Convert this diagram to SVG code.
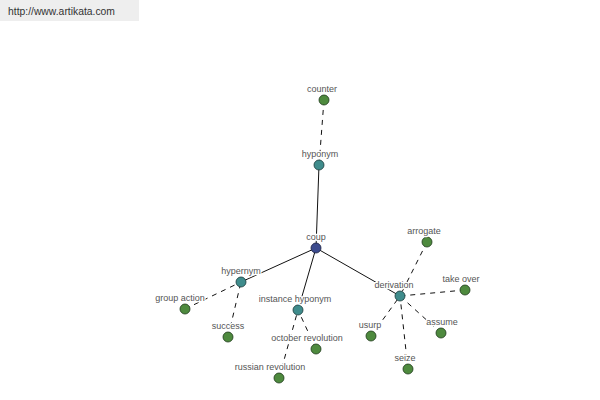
<svg xmlns="http://www.w3.org/2000/svg" width="600" height="400" viewBox="0 0 600 400">
<style>
.lbl{font-family:"Liberation Sans",Arial,sans-serif;font-size:9px;fill:#555;text-anchor:middle;stroke:#fff;stroke-width:2.5px;paint-order:stroke;stroke-linejoin:round}
.hdr{font-family:"Liberation Sans",Arial,sans-serif;font-size:10.5px;fill:#333}
.solid{stroke:#111;stroke-width:1;fill:none}
.dash{stroke:#111;stroke-width:1;fill:none;stroke-dasharray:5,5}
.leaf{fill:#4e8a3e;stroke:#1e3a1a;stroke-width:0.8}
.mid{fill:#3f8c8c;stroke:#1a3a3a;stroke-width:0.8}
.root{fill:#3c4b8e;stroke:#1a2040;stroke-width:0.8}
</style>
<rect width="600" height="400" fill="#fff"/>
<g id="header"><rect x="0" y="0" width="139" height="21" fill="#eeeeee"/><text class="hdr" x="8" y="15" textLength="107" lengthAdjust="spacingAndGlyphs">http://www.artikata.com</text></g>
<g id="connectors">
<line class="solid" x1="316" y1="248" x2="319" y2="165"/>
<line class="solid" x1="316" y1="248" x2="241" y2="282"/>
<line class="solid" x1="316" y1="248" x2="298" y2="310"/>
<line class="solid" x1="316" y1="248" x2="400" y2="296"/>
<line class="dash" x1="324" y1="100" x2="319" y2="165"/>
<line class="dash" x1="185" y1="309" x2="241" y2="282"/>
<line class="dash" x1="228" y1="337" x2="241" y2="282"/>
<line class="dash" x1="316" y1="349" x2="298" y2="310"/>
<line class="dash" x1="279" y1="378" x2="298" y2="310"/>
<line class="dash" x1="427" y1="242" x2="400" y2="296"/>
<line class="dash" x1="465" y1="290" x2="400" y2="296"/>
<line class="dash" x1="441" y1="333" x2="400" y2="296"/>
<line class="dash" x1="408" y1="369" x2="400" y2="296"/>
<line class="dash" x1="371" y1="336" x2="400" y2="296"/>
</g>
<g id="coup"><circle class="root" cx="316" cy="248" r="5"/><text class="lbl" x="316" y="240">coup</text></g>
<g id="hyponym"><circle class="mid" cx="319" cy="165" r="5"/><text class="lbl" x="320" y="157">hyponym</text></g>
<g id="counter"><circle class="leaf" cx="324" cy="100" r="5"/><text class="lbl" x="322" y="92">counter</text></g>
<g id="hypernym"><circle class="mid" cx="241" cy="282" r="5"/><text class="lbl" x="241" y="274">hypernym</text></g>
<g id="group-action"><circle class="leaf" cx="185" cy="309" r="5"/><text class="lbl" x="180" y="301">group action</text></g>
<g id="success"><circle class="leaf" cx="228" cy="337" r="5"/><text class="lbl" x="228" y="329">success</text></g>
<g id="instance-hyponym"><circle class="mid" cx="298" cy="310" r="5"/><text class="lbl" x="295" y="302">instance hyponym</text></g>
<g id="october-revolution"><circle class="leaf" cx="316" cy="349" r="5"/><text class="lbl" x="307" y="341">october revolution</text></g>
<g id="russian-revolution"><circle class="leaf" cx="279" cy="378" r="5"/><text class="lbl" x="270" y="370">russian revolution</text></g>
<g id="derivation"><circle class="mid" cx="400" cy="296" r="5"/><text class="lbl" x="394" y="288">derivation</text></g>
<g id="arrogate"><circle class="leaf" cx="427" cy="242" r="5"/><text class="lbl" x="424" y="234">arrogate</text></g>
<g id="take-over"><circle class="leaf" cx="465" cy="290" r="5"/><text class="lbl" x="461" y="282">take over</text></g>
<g id="assume"><circle class="leaf" cx="441" cy="333" r="5"/><text class="lbl" x="442" y="325">assume</text></g>
<g id="seize"><circle class="leaf" cx="408" cy="369" r="5"/><text class="lbl" x="405" y="361">seize</text></g>
<g id="usurp"><circle class="leaf" cx="371" cy="336" r="5"/><text class="lbl" x="370" y="328">usurp</text></g>
</svg>
